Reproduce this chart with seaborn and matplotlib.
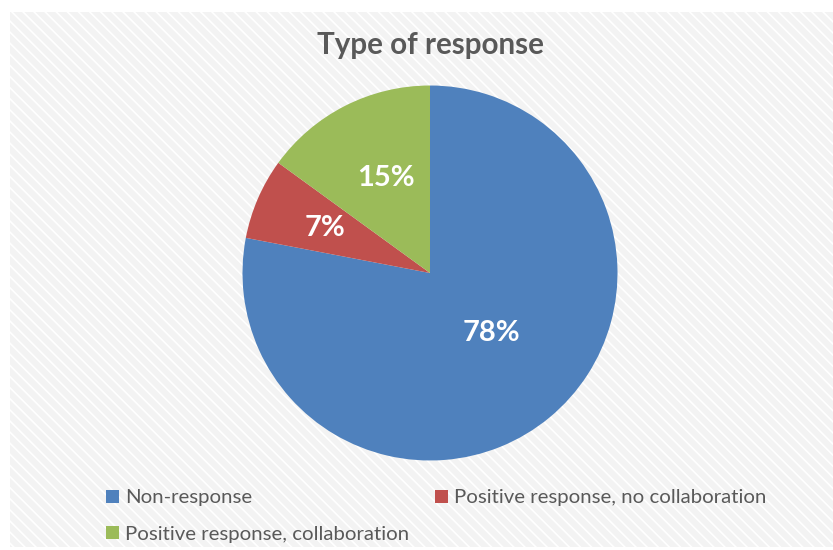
import matplotlib
matplotlib.use("Agg")
import matplotlib.pyplot as plt
import seaborn as sns
import numpy as np
from matplotlib.patches import Rectangle, Patch

categories = ["Non-response", "Positive response, no collaboration", "Positive response, collaboration"]
values = [78, 7, 15]
colors = ["#4f81bd", "#c0504d", "#9bbb59"]
title = "Type of response"

sns.set_theme(style="white")
plt.rcParams["font.family"] = ["Lato", "DejaVu Sans"]
plt.rcParams["hatch.linewidth"] = 1.2
plt.rcParams["hatch.color"] = "#ffffff"

W, H = 833, 550
fig = plt.figure(figsize=(W / 100, H / 100), dpi=100)
fig.patch.set_facecolor("white")

# background panel with diagonal hatching
bg = Rectangle((10 / W, 0.005), 1 - 10 / W, 1 - 12 / H - 0.005, transform=fig.transFigure,
               facecolor="#f3f3f3", edgecolor="#ffffff", hatch="\\\\\\", linewidth=0, zorder=-5)
fig.patches.append(bg)

# pie axes
cx, cy, r = 430, 273, 187.5
ax = fig.add_axes([(cx - r) / W, 1 - (cy + r) / H, 2 * r / W, 2 * r / H], zorder=2)
ax.set_facecolor("none")
wedges, texts, autotexts = ax.pie(values, colors=colors, startangle=90, counterclock=False,
                                  autopct=lambda p: f"{p:.0f}%", pctdistance=0.5,
                                  textprops=dict(color="white", fontsize=21, fontweight="bold"),
                                  wedgeprops=dict(linewidth=0))
label_r = [0.46, 0.61, 0.56]
label_rot = [6, 0, -2]
for w, t, lr, rot in zip(wedges, autotexts, label_r, label_rot):
    mid = np.deg2rad((w.theta1 + w.theta2) / 2 + rot)
    t.set_position((lr * np.cos(mid), lr * np.sin(mid)))
ax.set_xlim(-1, 1)
ax.set_ylim(-1, 1)
ax.set_aspect("equal")
ax.axis("off")

fig.text(cx / W, 1 - 45 / H, title, ha="center", va="center", fontsize=21.3,
         fontweight="bold", color="#595959", zorder=3)

handles = [Patch(facecolor=c, edgecolor="none") for c in colors]
order = [0, 2, 1]
leg = fig.legend([handles[i] for i in order], [categories[i] for i in order], ncol=2,
                 loc="upper left", bbox_to_anchor=(88 / W, 1 - 471 / H), frameon=False,
                 fontsize=14.7, labelcolor="#595959", handlelength=0.6, handleheight=0.6,
                 handletextpad=0.3, columnspacing=1.3, labelspacing=0.96)
leg.set_zorder(3)

fig.savefig("out.png", dpi=100)
